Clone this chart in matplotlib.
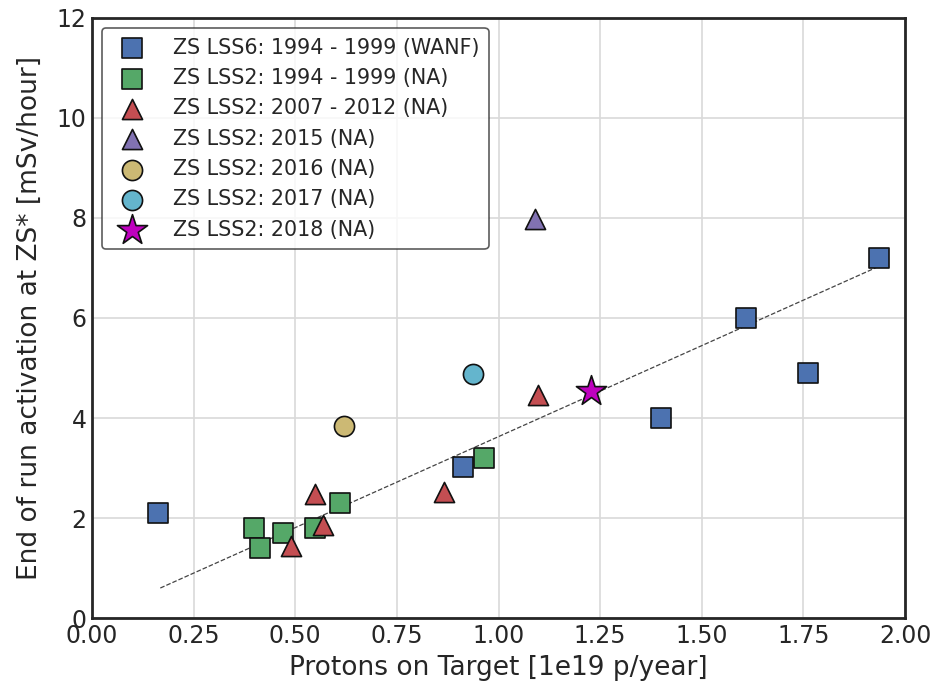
import numpy as np
import matplotlib
matplotlib.use('Agg')
import matplotlib.pyplot as plt

# data (x in 1e19 p/year, y in mSv/hour)
lss6_9499_x = [0.163, 0.913, 1.40, 1.609, 1.762, 1.935]
lss6_9499_y = [2.10, 3.02, 4.00, 6.00, 4.90, 7.20]

lss2_9499_x = [0.398, 0.413, 0.469, 0.549, 0.611, 0.963]
lss2_9499_y = [1.80, 1.40, 1.70, 1.80, 2.30, 3.21]

lss2_0712_x = [0.489, 0.549, 0.568, 0.867, 1.098]
lss2_0712_y = [1.44, 2.49, 1.86, 2.52, 4.46]

lss2_2015_x = [1.089]
lss2_2015_y = [7.97]
lss2_2016_x = [0.620]
lss2_2016_y = [3.84]
lss2_2017_x = [0.938]
lss2_2017_y = [4.88]
lss2_2018_x = [1.227]
lss2_2018_y = [4.55]

# dashed trend line
fit_x = [0.168, 1.932]
fit_y = [0.60, 7.02]

txt = '#262626'
plt.rcParams['font.family'] = 'DejaVu Sans'
plt.rcParams['text.color'] = txt
plt.rcParams['axes.labelcolor'] = txt
plt.rcParams['xtick.color'] = txt
plt.rcParams['ytick.color'] = txt

fig = plt.figure(figsize=(9.35, 6.91), dpi=100)
ax = fig.add_axes([0.0984, 0.1056, 0.8696, 0.8684])

ax.grid(True, color='#d9d9d9', linewidth=1.2, zorder=0)
ax.set_axisbelow(True)

ax.plot(fit_x, fit_y, linestyle='--', color='#444444', linewidth=0.9, zorder=2)

ms = 210
ax.scatter(lss6_9499_x, lss6_9499_y, marker='s', s=ms, color='#4C72B0', edgecolor='#111111',
           linewidth=1.2, label='ZS LSS6: 1994 - 1999 (WANF)', zorder=3)
ax.scatter(lss2_9499_x, lss2_9499_y, marker='s', s=ms, color='#55A868', edgecolor='#111111',
           linewidth=1.2, label='ZS LSS2: 1994 - 1999 (NA)', zorder=3)
ax.scatter(lss2_0712_x, lss2_0712_y, marker='^', s=ms, color='#C44E52', edgecolor='#111111',
           linewidth=1.2, label='ZS LSS2: 2007 - 2012 (NA)', zorder=3)
ax.scatter(lss2_2015_x, lss2_2015_y, marker='^', s=ms, color='#8172B2', edgecolor='#111111',
           linewidth=1.2, label='ZS LSS2: 2015 (NA)', zorder=3)
ax.scatter(lss2_2016_x, lss2_2016_y, marker='o', s=ms, color='#CCB974', edgecolor='#111111',
           linewidth=1.2, label='ZS LSS2: 2016 (NA)', zorder=3)
ax.scatter(lss2_2017_x, lss2_2017_y, marker='o', s=ms, color='#64B5CD', edgecolor='#111111',
           linewidth=1.2, label='ZS LSS2: 2017 (NA)', zorder=3)
ax.scatter(lss2_2018_x, lss2_2018_y, marker='*', s=520, color='#BF00BF', edgecolor='#111111',
           linewidth=1.2, label='ZS LSS2: 2018 (NA)', zorder=4)

ax.set_xlim(0, 2)
ax.set_ylim(0, 12)
ax.set_xticks(np.arange(0, 2.01, 0.25))
ax.set_yticks(np.arange(0, 13, 2))
ax.tick_params(labelsize=17, length=0, pad=4)

for s in ax.spines.values():
    s.set_color('#262626')
    s.set_linewidth(2)

ax.set_xlabel('Protons on Target [1e19 p/year]', fontsize=19, labelpad=5)
ax.set_ylabel('End of run activation at ZS* [mSv/hour]', fontsize=19, labelpad=10)

leg = ax.legend(loc='upper left', fontsize=14.9, frameon=True, fancybox=True,
                borderpad=0.45, labelspacing=0.5, handletextpad=0.95,
                borderaxespad=0.5, bbox_to_anchor=(0.0, 1.0))
leg.get_frame().set_edgecolor('#333333')
leg.get_frame().set_linewidth(1.2)

fig.savefig('out.png', dpi=100)
